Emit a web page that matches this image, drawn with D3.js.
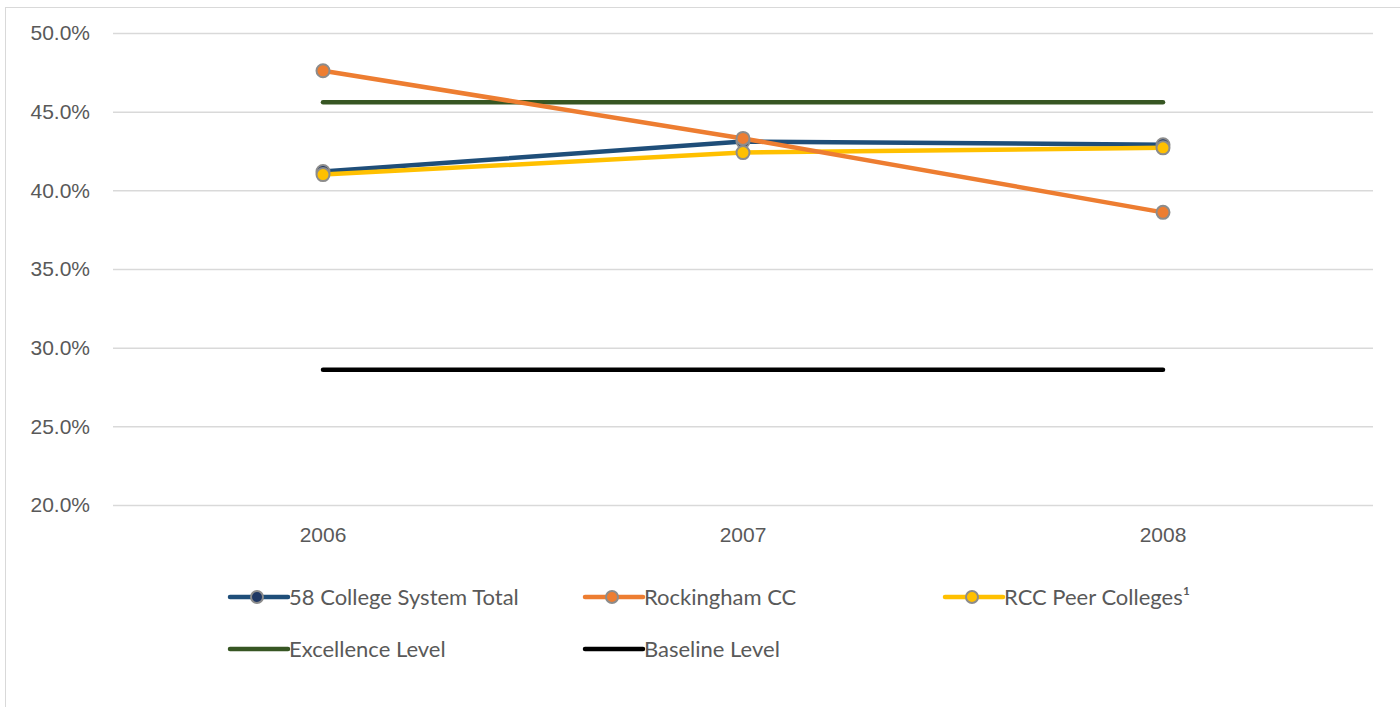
<!DOCTYPE html>
<html>
<head>
<meta charset="utf-8">
<script src="https://cdn.jsdelivr.net/npm/d3@7"></script>
<style>
  html, body { margin: 0; padding: 0; background: #fff; }
  svg { display: block; font-family: Lato, "Open Sans", sans-serif; }
</style>
</head>
<body>
<svg id="chart" width="1400" height="707"></svg>
<script>
const years = ["2006", "2007", "2008"];
const systemTotal = [41.2, 43.1, 42.9];
const rockingham = [47.6, 43.3, 38.6];
const peerColleges = [41.0, 42.4, 42.7];
const excellence = [45.6, 45.6, 45.6];
const baseline = [28.6, 28.6, 28.6];
const yTicks = [20, 25, 30, 35, 40, 45, 50];

const series = [
  { name: "58 College System Total", values: systemTotal, color: "#1F4E79", fill: "#1F3864", marker: true },
  { name: "Rockingham CC", values: rockingham, color: "#ED7D31", fill: "#ED7D31", marker: true },
  { name: "RCC Peer Colleges\u00B9", values: peerColleges, color: "#FFC000", fill: "#FFC000", marker: true },
  { name: "Excellence Level", values: excellence, color: "#375623", marker: false },
  { name: "Baseline Level", values: baseline, color: "#000000", marker: false }
];

const svg = d3.select("#chart");
const plot = { left: 113, right: 1373, top: 33, bottom: 505 };

// outer chart border
svg.append("rect")
  .attr("x", 5.5).attr("y", 7.5)
  .attr("width", 1420).attr("height", 720)
  .attr("fill", "none").attr("stroke", "#d9d9d9").attr("stroke-width", 1);

const x = d3.scaleBand().domain(years).range([plot.left, plot.right]);
const y = d3.scaleLinear().domain([20, 50]).range([plot.bottom, plot.top]);
const cx = d => x(d) + x.bandwidth() / 2;

// horizontal gridlines
const yAxis = d3.axisLeft(y)
  .tickValues(yTicks)
  .tickSize(-(plot.right - plot.left))
  .tickPadding(23)
  .tickFormat(d => d3.format(".1f")(d) + "%");
const gy = svg.append("g").attr("transform", `translate(${plot.left},0)`).call(yAxis);
gy.select(".domain").remove();
gy.selectAll(".tick line").attr("stroke", "#d9d9d9").attr("stroke-width", 1.5);
gy.selectAll(".tick text").attr("fill", "#595959").style("font-size", "21px");

// category axis labels
const xAxis = d3.axisBottom(x).tickSize(0).tickPadding(22);
const gx = svg.append("g").attr("transform", `translate(0,${plot.bottom})`).call(xAxis);
gx.select(".domain").remove();
gx.selectAll(".tick text").attr("fill", "#595959").style("font-size", "21px");

const line = d3.line().x((d, i) => cx(years[i])).y(d => y(d));

// reference levels first, then data series on top
const drawOrder = [series[4], series[3], series[0], series[2], series[1]];
drawOrder.forEach(s => {
  svg.append("path")
    .datum(s.values)
    .attr("d", line)
    .attr("fill", "none")
    .attr("stroke", s.color)
    .attr("stroke-width", 4.5)
    .attr("stroke-linecap", "round")
    .attr("stroke-linejoin", "round");
});
[series[0], series[2], series[1]].forEach(s => {
  svg.append("g").selectAll("circle")
    .data(s.values)
    .join("circle")
    .attr("cx", (d, i) => cx(years[i]))
    .attr("cy", d => y(d))
    .attr("r", 6.5)
    .attr("fill", s.fill)
    .attr("stroke", "#8c8c8c")
    .attr("stroke-width", 2);
});

// legend
const legendPos = [
  { x: 228, y: 597 }, { x: 583, y: 597 }, { x: 943, y: 597 },
  { x: 228, y: 649 }, { x: 583, y: 649 }
];
series.forEach((s, i) => {
  const p = legendPos[i];
  const g = svg.append("g").attr("transform", `translate(${p.x},${p.y})`);
  g.append("line")
    .attr("x1", 2).attr("x2", 60).attr("y1", 0).attr("y2", 0)
    .attr("stroke", s.color).attr("stroke-width", 4.5).attr("stroke-linecap", "round");
  if (s.marker) {
    g.append("circle").attr("cx", 29).attr("cy", 0).attr("r", 6)
      .attr("fill", s.fill).attr("stroke", "#8c8c8c").attr("stroke-width", 2);
  }
  g.append("text")
    .attr("x", 61).attr("y", 0).attr("dy", "0.35em")
    .attr("fill", "#595959").style("font-size", "22px")
    .text(s.name);
});
</script>
</body>
</html>
